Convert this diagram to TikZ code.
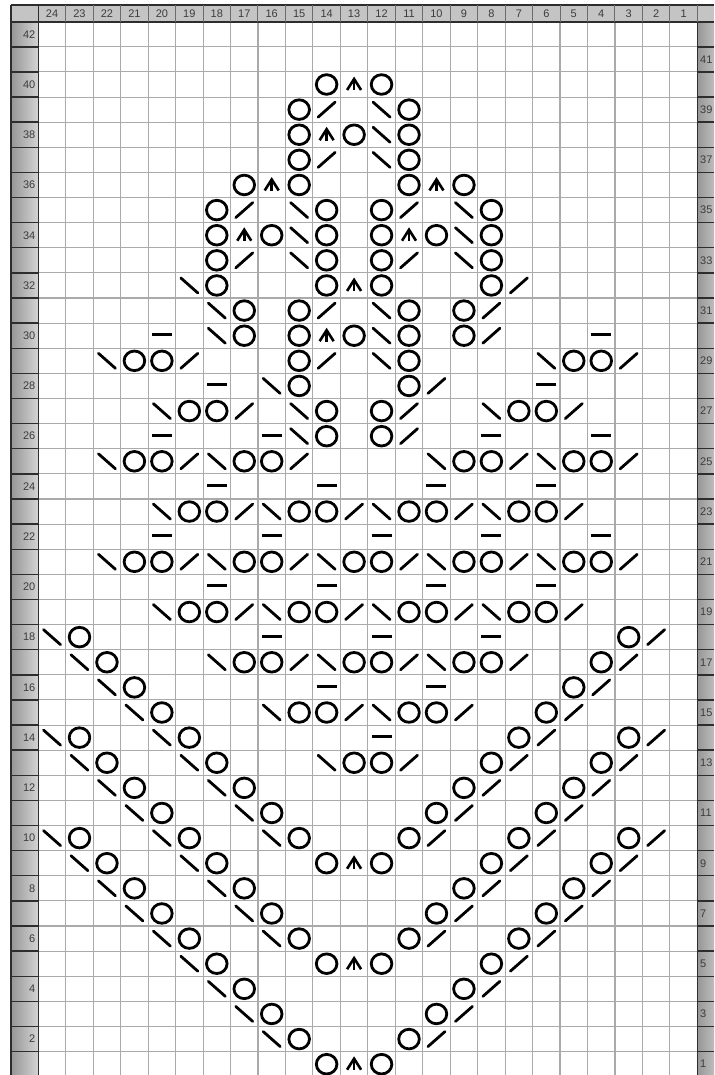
\documentclass[tikz,border=0pt]{standalone}
\usepackage{fontspec}
\setsansfont{Liberation Sans}
\definecolor{gridc}{RGB}{170,170,170}
\definecolor{hdr}{RGB}{196,196,196}
\definecolor{labL}{RGB}{150,150,150}
\definecolor{labR}{RGB}{212,212,212}
\definecolor{bord}{RGB}{45,45,45}
\definecolor{numc}{RGB}{60,60,60}
\tikzset{
  sym/.style={line width=2.8pt, draw=black},
  yo/.pic={\draw[sym] (0pt,0pt) ellipse[x radius=10.3pt, y radius=9.8pt];},
  ssk/.pic={\draw[sym, line cap=round] (-8.5pt,7.5pt) -- (8.5pt,-7.5pt);},
  ktog/.pic={\draw[sym, line cap=round] (-8.5pt,-7.5pt) -- (8.5pt,7.5pt);},
  cdd/.pic={\draw[sym, line width=2.6pt, line join=miter] (-7pt,-5.5pt) -- (0pt,5.5pt) -- (7pt,-5.5pt);
            \draw[sym, line width=2.6pt] (0pt,5.5pt) -- (0pt,-6pt);},
  purl/.pic={\draw[sym, line width=3pt] (-10pt,1pt) -- (10pt,1pt);},
  gridline/.style={draw=gridc, line width=1.1pt},
  bordline/.style={draw=bord, line width=1.4pt},
  num/.style={font=\sffamily\fontsize{11}{11}\selectfont, text=numc, inner sep=0pt},
}
\begin{document}
\begin{tikzpicture}[x=1pt,y=1pt]
\useasboundingbox (0,0) rectangle (714,-1075);
\clip (0,0) rectangle (714,-1075);
\fill[white] (0,0) rectangle (714,-1075);
% header row
\fill[hdr] (11,-5) rectangle (714,-21.7);
% label columns
\foreach \k in {0,...,41} {
  \shade[left color=labL, right color=labR] (11,{-21.7-25.12*\k}) rectangle (38.3,{-21.7-25.12*(\k+1)});
  \shade[left color=labL, right color=labR] (697.3,{-21.7-25.12*\k}) rectangle (724,{-21.7-25.12*(\k+1)});
}
% grid
\foreach \k in {0,...,24} \draw[gridline] ({38.3+27.46*\k},-21.7) -- ({38.3+27.46*\k},-1080);
\foreach \k in {0,...,42} \draw[gridline] (38.3,{-21.7-25.12*\k}) -- (697.3,{-21.7-25.12*\k});
% borders
\draw[bordline] (11,-5) -- (714,-5);
\draw[bordline] (11,-5) -- (11,-1080);
\draw[draw=bord, line width=2pt] (11,-21.7) -- (714,-21.7);
\draw[bordline] (38.3,-5) -- (38.3,-1080);
\draw[bordline] (697.3,-5) -- (697.3,-1080);
\foreach \k in {1,...,24} \draw[draw=bord!70, line width=1pt] ({38.3+27.46*\k},-5) -- ({38.3+27.46*\k},-21.7);
\foreach \k in {1,...,42} {
  \draw[bordline] (11,{-21.7-25.12*\k}) -- (38.3,{-21.7-25.12*\k});
  \draw[bordline] (697.3,{-21.7-25.12*\k}) -- (714,{-21.7-25.12*\k});
}
% header numbers
\foreach \c in {1,...,24} \node[num] (h\c) at ({711.07-27.46*\c},-13.6) {\c};
% row numbers
\foreach \r in {2,4,...,42} \node[num, anchor=east] (l\r) at (35.5,{-1089.3+25.12*\r}) {\r};
\foreach \r in {1,3,...,41} \node[num, anchor=west] (r\r) at (700,{-1089.3+25.12*\r}) {\r};
% symbols
\begin{scope}[shift={(711.07pt,-1089.3pt)}, x=-27.46pt, y=25.12pt]
\foreach \r/\cs in {40/{14,12},39/{15,11},38/{15,13,11},37/{15,11},36/{17,15,11,9},
  35/{18,14,12,8},34/{18,16,14,12,10,8},33/{18,14,12,8},32/{18,14,12,8},31/{17,15,11,9},
  30/{17,15,13,11,9},29/{21,20,15,11,5,4},28/{15,11},27/{19,18,14,12,7,6},26/{14,12},
  25/{21,20,17,16,9,8,5,4},23/{19,18,15,14,11,10,7,6},21/{21,20,17,16,13,12,9,8,5,4},
  19/{19,18,15,14,11,10,7,6},18/{23,3},17/{22,17,16,13,12,9,8,4},16/{21,5},
  15/{20,15,14,11,10,6},14/{23,19,7,3},13/{22,18,13,12,8,4},12/{21,17,9,5},
  11/{20,16,10,6},10/{23,19,15,11,7,3},9/{22,18,14,12,8,4},8/{21,17,9,5},
  7/{20,16,10,6},6/{19,15,11,7},5/{18,14,12,8},4/{17,9},3/{16,10},2/{15,11},1/{14,12}}
  {\foreach \c in \cs {\pic at (\c,\r) {yo};}}
\foreach \r/\cs in {39/{12},38/{12},37/{12},35/{15,9},34/{15,9},33/{15,9},32/{19},
  31/{18,12},30/{18,12},29/{22,12,6},28/{16},27/{20,15,8},26/{15},25/{22,18,10,6},
  23/{20,16,12,8},21/{22,18,14,10,6},19/{20,16,12,8},18/{24},17/{23,18,14,10},16/{22},
  15/{21,16,12},14/{24,20},13/{23,19,14},12/{22,18},11/{21,17},10/{24,20,16},9/{23,19},
  8/{22,18},7/{21,17},6/{20,16},5/{19},4/{18},3/{17},2/{16}}
  {\foreach \c in \cs {\pic at (\c,\r) {ssk};}}
\foreach \r/\cs in {39/{14},37/{14},35/{17,11},33/{17,11},32/{7},31/{14,8},30/{8},
  29/{19,14,3},28/{10},27/{17,11,5},26/{11},25/{19,15,7,3},23/{17,13,9,5},
  21/{19,15,11,7,3},19/{17,13,9,5},18/{2},17/{15,11,7,3},16/{4},15/{13,9,5},14/{6,2},
  13/{11,7,3},12/{8,4},11/{9,5},10/{10,6,2},9/{7,3},8/{8,4},7/{9,5},6/{10,6},5/{7},
  4/{8},3/{9},2/{10}}
  {\foreach \c in \cs {\pic at (\c,\r) {ktog};}}
\foreach \r/\cs in {40/{13},38/{14},36/{16,10},34/{17,11},32/{13},30/{14},9/{13},5/{13},1/{13}}
  {\foreach \c in \cs {\pic at (\c,\r) {cdd};}}
\foreach \r/\cs in {30/{20,4},28/{18,6},26/{20,16,8,4},24/{18,14,10,6},22/{20,16,12,8,4},
  20/{18,14,10,6},18/{16,12,8},16/{14,10},14/{12}}
  {\foreach \c in \cs {\pic at (\c,\r) {purl};}}
\end{scope}
\end{tikzpicture}
\end{document}
